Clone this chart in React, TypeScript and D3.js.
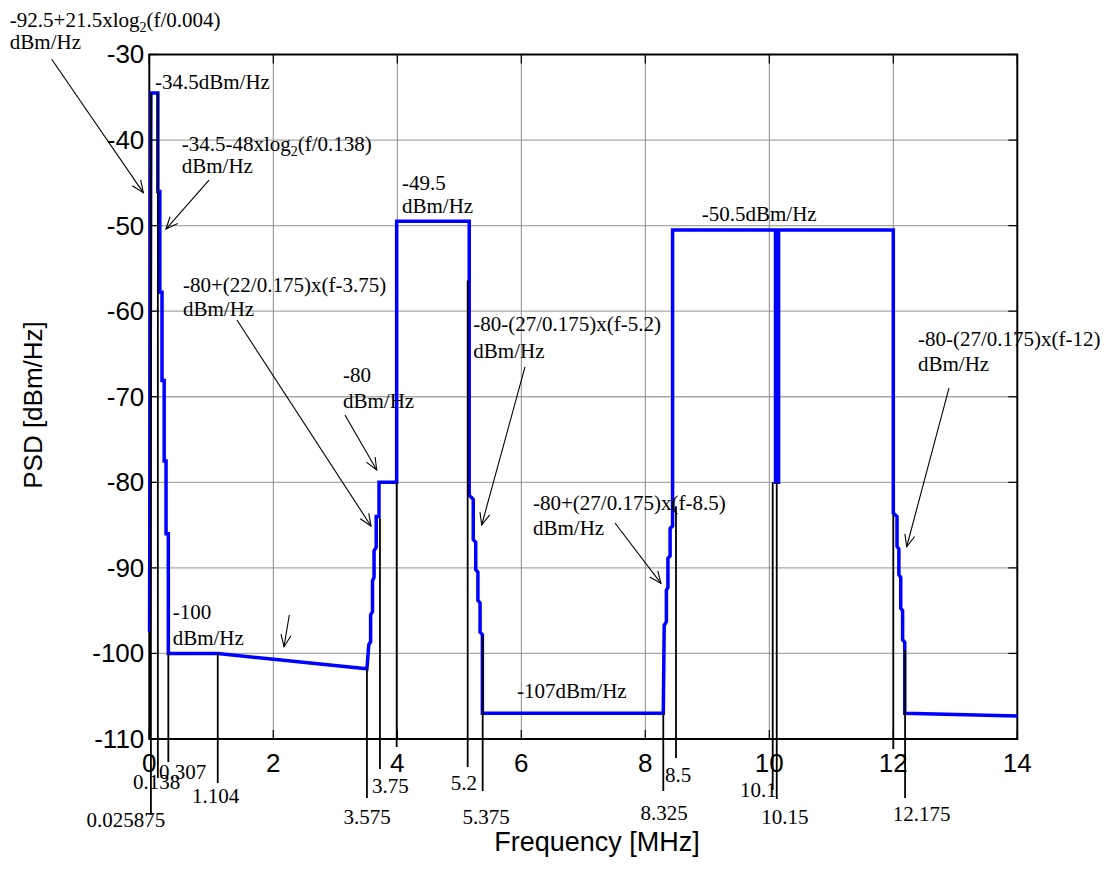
import React from 'react';
import * as d3 from 'd3';

// ---------- data ----------
const xTicks = [0, 2, 4, 6, 8, 10, 12, 14];
const yTicks = [-30, -40, -50, -60, -70, -80, -90, -100, -110];

// PSD mask polyline (MHz, dBm/Hz)
const psdFreq = [
  0.004, 0.025875, 0.138, 0.138, 0.17, 0.17, 0.205, 0.205, 0.24, 0.24, 0.27, 0.27, 0.307, 0.307,
  1.104, 3.51,
  3.54, 3.57, 3.57, 3.6, 3.6, 3.625, 3.625, 3.66, 3.66, 3.705, 3.705, 3.99, 3.99,
  5.16, 5.16, 5.225, 5.225, 5.265, 5.265, 5.3, 5.3, 5.335, 5.335, 5.372, 5.372,
  8.29, 8.305, 8.34, 8.34, 8.365, 8.365, 8.4, 8.4, 8.44, 8.44,
  10.1, 10.1, 10.15, 10.15,
  12.0, 12.0, 12.06, 12.06, 12.09, 12.09, 12.12, 12.12, 12.15, 12.15, 12.185, 12.185, 14.0,
];
const psdLevel = [
  -97.5, -34.5, -34.5, -46, -46, -57.8, -57.8, -68.1, -68.1, -77.5, -77.5, -86, -86, -100,
  -100, -101.8,
  -99, -98.6, -95.5, -95.1, -91.5, -91.1, -88, -87.6, -84, -84, -80, -80, -49.5,
  -49.5, -81.5, -82, -86.7, -87, -90.2, -90.5, -93.8, -94.1, -97.5, -97.8, -107,
  -107, -96.7, -96.3, -92.6, -92.3, -88.9, -88.6, -85.4, -85.1, -50.5,
  -50.5, -80, -80, -50.5,
  -50.5, -83.6, -84, -87.5, -87.8, -90.8, -91.1, -94.7, -95, -98.4, -98.7, -107, -107.3,
];

// frequency marker lines
const markerFreq = [0.025875, 0.138, 0.307, 1.104, 3.51, 3.72, 3.99, 5.135, 5.377, 8.29, 8.495, 10.055, 10.12, 12.0, 12.19];
const markerTop = [-34.5, -34.5, -100, -100, -101.8, -84.2, -80, -56.4, -98, -107, -82.8, -80, -80, -83.8, -99.6];
const markerLabel = ['0.025875', '0.138', '0.307', '1.104', '3.575', '3.75', '', '5.2', '5.375', '8.325', '8.5', '10.1', '10.15', '', '12.175'];

// annotation texts
const annoLines = [
  ['-92.5+21.5xlog|2|(f/0.004)', 'dBm/Hz'],
  ['-34.5dBm/Hz'],
  ['-34.5-48xlog|2|(f/0.138)', 'dBm/Hz'],
  ['-80+(22/0.175)x(f-3.75)', 'dBm/Hz'],
  ['-80', 'dBm/Hz'],
  ['-49.5', 'dBm/Hz'],
  ['-80-(27/0.175)x(f-5.2)', 'dBm/Hz'],
  ['-50.5dBm/Hz'],
  ['-80-(27/0.175)x(f-12)', 'dBm/Hz'],
  ['-80+(27/0.175)x(f-8.5)', 'dBm/Hz'],
  ['-100', 'dBm/Hz'],
  ['-107dBm/Hz'],
];
const annoFreq = [-2.25, 0.092, 0.523, 0.544, 3.124, 4.076, 5.226, 8.91, 12.398, 6.189, 0.377, 5.931];
const annoLevel = [-26.8, -34.03, -41.28, -57.76, -68.28, -45.84, -62.32, -49.46, -64.07, -83.24, -95.98, -105.21];

// arrows (from -> to)
const arrowFromF = [-1.574, 0.963, 1.414, 3.156, 6.06, 12.898, 7.511, 2.258];
const arrowFromL = [-30.56, -44.67, -61.03, -72.13, -66.52, -68.98, -84.76, -95.51];
const arrowToF = [-0.097, 0.269, 3.576, 3.668, 5.361, 12.216, 8.253, 2.173];
const arrowToL = [-46.15, -50.4, -85.11, -78.56, -84.99, -87.53, -91.81, -99.21];

// ---------- layout ----------
const W = 1110;
const H = 872;
const M = { left: 149.3, right: 1017.3, top: 54.5, bottom: 739 };
const annoGap = [21.5, 0, 22, 24, 26, 23, 27, 0, 25, 25, 26, 0];
const markerBottom = [815, 778, 762, 783, 798, 769, 747, 767, 791, 791, 758, 790, 799, 749, 798];
const markerLabelX = [125.8, 156.7, 182.5, 215.5, 367, 390.3, 0, 463.8, 486, 664, 678, 758.3, 784.8, 0, 921.7];
const markerLabelY = [827, 789, 779, 803, 824, 793, 0, 790, 824, 820, 782, 797, 824, 0, 821];

const SERIF = '"Liberation Serif", "Times New Roman", serif';
const SANS = '"Liberation Sans", Arial, sans-serif';

function renderRich(s: string) {
  const parts = s.split('|');
  if (parts.length === 1) return s;
  return [
    <tspan key="a">{parts[0]}</tspan>,
    <tspan key="b" fontSize={14} dy={5}>{parts[1]}</tspan>,
    <tspan key="c" dy={-5}>{parts[2]}</tspan>,
  ];
}

export default function App() {
  const x = d3.scaleLinear().domain([0, 14]).range([M.left, M.right]);
  const y = d3.scaleLinear().domain([-110, -30]).range([M.bottom, M.top]);
  const line = d3
    .line<number>()
    .x((_, i) => x(psdFreq[i]))
    .y((d) => y(d));
  const pathD = line(psdLevel) || '';

  const tickLen = 9;

  return (
    <svg
      width={W}
      height={H}
      style={{ position: 'absolute', left: 0, top: 0, background: '#fff' }}
    >
      <rect x={0} y={0} width={W} height={H} fill="#fff" />
      {/* grid */}
      {yTicks.slice(1, -1).map((t) => (
        <line key={'gy' + t} x1={M.left} x2={M.right} y1={y(t)} y2={y(t)} stroke="#a8a8a8" strokeWidth={1.3} />
      ))}
      {xTicks.slice(1, -1).map((t) => (
        <line key={'gx' + t} x1={x(t)} x2={x(t)} y1={M.top} y2={M.bottom} stroke="#8a8a8a" strokeWidth={1} />
      ))}
      {/* ticks inward */}
      {yTicks.map((t) => (
        <g key={'ty' + t}>
          <line x1={M.left} x2={M.left + tickLen} y1={y(t)} y2={y(t)} stroke="#000" strokeWidth={1.2} />
          <line x1={M.right} x2={M.right - tickLen} y1={y(t)} y2={y(t)} stroke="#000" strokeWidth={1.2} />
        </g>
      ))}
      {xTicks.map((t) => (
        <g key={'tx' + t}>
          <line x1={x(t)} x2={x(t)} y1={M.bottom} y2={M.bottom - tickLen} stroke="#000" strokeWidth={1.2} />
          <line x1={x(t)} x2={x(t)} y1={M.top} y2={M.top + tickLen} stroke="#000" strokeWidth={1.2} />
        </g>
      ))}
      {/* frame */}
      <rect x={M.left} y={M.top} width={M.right - M.left} height={M.bottom - M.top} fill="none" stroke="#000" strokeWidth={2} />

      {/* PSD line */}
      <path d={pathD} fill="none" stroke="#0000ff" strokeWidth={3.5} strokeLinejoin="miter" />

      {/* marker lines */}
      {markerFreq.map((f, i) => (
        <line key={'m' + i} x1={x(f)} x2={x(f)} y1={y(markerTop[i])} y2={markerBottom[i]} stroke="#000" strokeWidth={1.8} />
      ))}
      {markerLabel.map((s, i) =>
        s ? (
          <text key={'ml' + i} x={markerLabelX[i]} y={markerLabelY[i]} textAnchor="middle" fontFamily={SERIF} fontSize={21} fill="#000">
            {s}
          </text>
        ) : null
      )}

      {/* tick labels */}
      {yTicks.map((t) => (
        <text key={'yl' + t} x={M.left - 5} y={y(t) + 2} textAnchor="end" dominantBaseline="middle" fontFamily={SANS} fontSize={26} fill="#000">
          {t}
        </text>
      ))}
      {xTicks.map((t) => (
        <text key={'xl' + t} x={x(t)} y={772} textAnchor="middle" fontFamily={SANS} fontSize={26} fill="#000">
          {t}
        </text>
      ))}

      {/* axis titles */}
      <text x={597} y={851} textAnchor="middle" fontFamily={SANS} fontSize={27} fill="#000">
        Frequency [MHz]
      </text>
      <text transform="translate(35,405) rotate(-90)" textAnchor="middle" dominantBaseline="middle" fontFamily={SANS} fontSize={26} fill="#000">
        PSD [dBm/Hz]
      </text>

      {/* annotations */}
      {annoLines.map((lines, i) => (
        <g key={'a' + i}>
          {lines.map((s, j) => (
            <text key={j} x={x(annoFreq[i])} y={y(annoLevel[i]) + j * annoGap[i]} fontFamily={SERIF} fontSize={21} fill="#000">
              {renderRich(s)}
            </text>
          ))}
        </g>
      ))}
      {arrowFromF.map((_, i) => {
        const x1 = x(arrowFromF[i]);
        const y1 = y(arrowFromL[i]);
        const x2 = x(arrowToF[i]);
        const y2 = y(arrowToL[i]);
        const a = Math.atan2(y2 - y1, x2 - x1);
        const hl = 13;
        const ha = 0.4;
        const p1 = [x2 - hl * Math.cos(a - ha), y2 - hl * Math.sin(a - ha)];
        const p2 = [x2 - hl * Math.cos(a + ha), y2 - hl * Math.sin(a + ha)];
        return (
          <g key={'r' + i} stroke="#000" strokeWidth={1.1} fill="none">
            <line x1={x1} y1={y1} x2={x2} y2={y2} />
            <polyline points={`${p1[0]},${p1[1]} ${x2},${y2} ${p2[0]},${p2[1]}`} />
          </g>
        );
      })}
    </svg>
  );
}
